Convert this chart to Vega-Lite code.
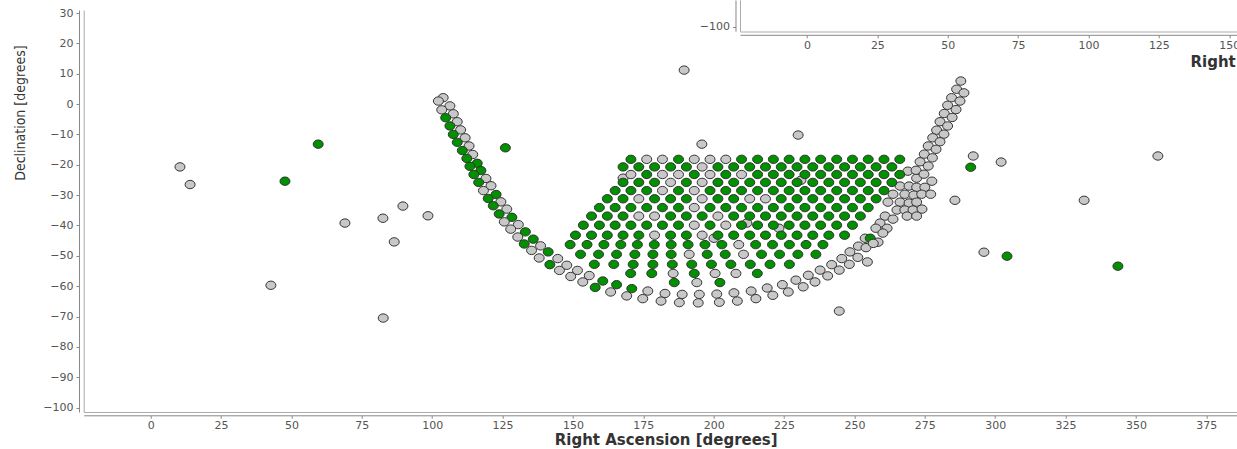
{
"$schema": "https://vega.github.io/schema/vega-lite/v6.json",
"background": "white",
"padding": {"left": 13.7, "top": 7, "right": 0, "bottom": 0},
"width": 1164,
"height": 402,
"datasets": {"pts": [
{"ra":167.8,"dec":-24.4,"k":"n"},{"ra":223.2,"dec":-40.9,"k":"n"},{"ra":200.1,"dec":-44.2,"k":"n"},{"ra":211.8,"dec":-39.2,"k":"n"},{"ra":231.0,"dec":-25.1,"k":"n"},
{"ra":269.0,"dec":-22.1,"k":"n"},{"ra":272.1,"dec":-24.4,"k":"n"},{"ra":277.5,"dec":-25.4,"k":"n"},{"ra":266.2,"dec":-27.0,"k":"n"},{"ra":269.4,"dec":-27.0,"k":"n"},{"ra":272.1,"dec":-27.4,"k":"n"},{"ra":275.0,"dec":-27.4,"k":"n"},{"ra":263.7,"dec":-29.7,"k":"n"},{"ra":267.9,"dec":-29.7,"k":"n"},{"ra":271.1,"dec":-30.0,"k":"n"},{"ra":273.9,"dec":-29.7,"k":"n"},{"ra":277.1,"dec":-29.7,"k":"n"},{"ra":261.9,"dec":-32.3,"k":"n"},{"ra":266.2,"dec":-32.3,"k":"n"},{"ra":269.4,"dec":-32.6,"k":"n"},{"ra":272.1,"dec":-32.3,"k":"n"},{"ra":265.1,"dec":-34.9,"k":"n"},{"ra":267.9,"dec":-34.9,"k":"n"},{"ra":270.8,"dec":-34.9,"k":"n"},{"ra":274.0,"dec":-34.6,"k":"n"},{"ra":260.9,"dec":-36.9,"k":"n"},{"ra":263.7,"dec":-37.9,"k":"n"},{"ra":268.7,"dec":-36.9,"k":"n"},{"ra":272.1,"dec":-36.9,"k":"n"},{"ra":259.1,"dec":-39.2,"k":"n"},{"ra":261.6,"dec":-40.9,"k":"n"},{"ra":257.6,"dec":-40.9,"k":"n"},{"ra":260.1,"dec":-42.5,"k":"n"},{"ra":258.4,"dec":-45.5,"k":"n"},{"ra":253.8,"dec":-44.2,"k":"n"},{"ra":255.6,"dec":-44.2,"k":"g"},
{"ra":170.6,"dec":-18.2,"k":"g"},{"ra":176.2,"dec":-18.2,"k":"n"},{"ra":181.8,"dec":-18.2,"k":"n"},{"ra":187.5,"dec":-18.2,"k":"g"},{"ra":193.1,"dec":-18.2,"k":"n"},{"ra":198.7,"dec":-18.2,"k":"n"},{"ra":204.3,"dec":-18.2,"k":"n"},{"ra":209.9,"dec":-18.2,"k":"g"},{"ra":215.6,"dec":-18.2,"k":"g"},{"ra":221.2,"dec":-18.2,"k":"g"},{"ra":226.8,"dec":-18.2,"k":"g"},{"ra":232.4,"dec":-18.2,"k":"g"},{"ra":238.0,"dec":-18.2,"k":"g"},{"ra":243.7,"dec":-18.2,"k":"g"},{"ra":249.3,"dec":-18.2,"k":"g"},{"ra":254.9,"dec":-18.2,"k":"g"},{"ra":260.5,"dec":-18.2,"k":"g"},{"ra":266.1,"dec":-18.2,"k":"g"},
{"ra":167.8,"dec":-20.7,"k":"g"},{"ra":173.4,"dec":-20.7,"k":"g"},{"ra":179.0,"dec":-20.7,"k":"g"},{"ra":184.7,"dec":-20.7,"k":"g"},{"ra":190.3,"dec":-20.7,"k":"g"},{"ra":195.9,"dec":-20.7,"k":"n"},{"ra":201.5,"dec":-20.7,"k":"g"},{"ra":207.1,"dec":-20.7,"k":"g"},{"ra":212.8,"dec":-20.7,"k":"g"},{"ra":218.4,"dec":-20.7,"k":"g"},{"ra":224.0,"dec":-20.7,"k":"g"},{"ra":229.6,"dec":-20.7,"k":"g"},{"ra":235.2,"dec":-20.7,"k":"g"},{"ra":240.9,"dec":-20.7,"k":"g"},{"ra":246.5,"dec":-20.7,"k":"g"},{"ra":252.1,"dec":-20.7,"k":"g"},{"ra":257.7,"dec":-20.7,"k":"g"},{"ra":263.3,"dec":-20.7,"k":"g"},
{"ra":170.6,"dec":-23.2,"k":"n"},{"ra":176.2,"dec":-23.2,"k":"g"},{"ra":181.8,"dec":-23.2,"k":"n"},{"ra":187.5,"dec":-23.2,"k":"n"},{"ra":193.1,"dec":-23.2,"k":"g"},{"ra":198.7,"dec":-23.2,"k":"n"},{"ra":204.3,"dec":-23.2,"k":"g"},{"ra":209.9,"dec":-23.2,"k":"n"},{"ra":215.6,"dec":-23.2,"k":"g"},{"ra":221.2,"dec":-23.2,"k":"g"},{"ra":226.8,"dec":-23.2,"k":"g"},{"ra":232.4,"dec":-23.2,"k":"g"},{"ra":238.0,"dec":-23.2,"k":"g"},{"ra":243.7,"dec":-23.2,"k":"g"},{"ra":249.3,"dec":-23.2,"k":"g"},{"ra":254.9,"dec":-23.2,"k":"g"},{"ra":260.5,"dec":-23.2,"k":"g"},{"ra":266.1,"dec":-23.2,"k":"g"},
{"ra":167.8,"dec":-25.8,"k":"g"},{"ra":173.4,"dec":-25.8,"k":"g"},{"ra":179.0,"dec":-25.8,"k":"g"},{"ra":184.7,"dec":-25.8,"k":"n"},{"ra":190.3,"dec":-25.8,"k":"g"},{"ra":195.9,"dec":-25.8,"k":"n"},{"ra":201.5,"dec":-25.8,"k":"g"},{"ra":207.1,"dec":-25.8,"k":"g"},{"ra":212.8,"dec":-25.8,"k":"g"},{"ra":218.4,"dec":-25.8,"k":"g"},{"ra":224.0,"dec":-25.8,"k":"g"},{"ra":229.6,"dec":-25.8,"k":"g"},{"ra":235.2,"dec":-25.8,"k":"g"},{"ra":240.9,"dec":-25.8,"k":"g"},{"ra":246.5,"dec":-25.8,"k":"g"},{"ra":252.1,"dec":-25.8,"k":"g"},{"ra":257.7,"dec":-25.8,"k":"g"},{"ra":263.3,"dec":-25.8,"k":"g"},
{"ra":165.0,"dec":-28.5,"k":"g"},{"ra":170.6,"dec":-28.5,"k":"g"},{"ra":176.2,"dec":-28.5,"k":"g"},{"ra":181.8,"dec":-28.5,"k":"n"},{"ra":187.5,"dec":-28.5,"k":"g"},{"ra":193.1,"dec":-28.5,"k":"n"},{"ra":198.7,"dec":-28.5,"k":"g"},{"ra":204.3,"dec":-28.5,"k":"g"},{"ra":209.9,"dec":-28.5,"k":"g"},{"ra":215.6,"dec":-28.5,"k":"g"},{"ra":221.2,"dec":-28.5,"k":"g"},{"ra":226.8,"dec":-28.5,"k":"g"},{"ra":232.4,"dec":-28.5,"k":"g"},{"ra":238.0,"dec":-28.5,"k":"g"},{"ra":243.7,"dec":-28.5,"k":"g"},{"ra":249.3,"dec":-28.5,"k":"g"},{"ra":254.9,"dec":-28.5,"k":"g"},{"ra":260.5,"dec":-28.5,"k":"g"},
{"ra":162.2,"dec":-31.2,"k":"g"},{"ra":167.8,"dec":-31.2,"k":"g"},{"ra":173.4,"dec":-31.2,"k":"n"},{"ra":179.0,"dec":-31.2,"k":"g"},{"ra":184.7,"dec":-31.2,"k":"g"},{"ra":190.3,"dec":-31.2,"k":"g"},{"ra":195.9,"dec":-31.2,"k":"n"},{"ra":201.5,"dec":-31.2,"k":"g"},{"ra":207.1,"dec":-31.2,"k":"g"},{"ra":212.8,"dec":-31.2,"k":"n"},{"ra":218.4,"dec":-31.2,"k":"n"},{"ra":224.0,"dec":-31.2,"k":"g"},{"ra":229.6,"dec":-31.2,"k":"g"},{"ra":235.2,"dec":-31.2,"k":"g"},{"ra":240.9,"dec":-31.2,"k":"g"},{"ra":246.5,"dec":-31.2,"k":"g"},{"ra":252.1,"dec":-31.2,"k":"g"},{"ra":257.7,"dec":-31.2,"k":"g"},
{"ra":159.4,"dec":-34.1,"k":"g"},{"ra":165.0,"dec":-34.1,"k":"g"},{"ra":170.6,"dec":-34.1,"k":"g"},{"ra":176.2,"dec":-34.1,"k":"g"},{"ra":181.8,"dec":-34.1,"k":"g"},{"ra":187.5,"dec":-34.1,"k":"g"},{"ra":193.1,"dec":-34.1,"k":"n"},{"ra":198.7,"dec":-34.1,"k":"g"},{"ra":204.3,"dec":-34.1,"k":"g"},{"ra":209.9,"dec":-34.1,"k":"g"},{"ra":215.6,"dec":-34.1,"k":"g"},{"ra":221.2,"dec":-34.1,"k":"g"},{"ra":226.8,"dec":-34.1,"k":"g"},{"ra":232.4,"dec":-34.1,"k":"g"},{"ra":238.0,"dec":-34.1,"k":"g"},{"ra":243.7,"dec":-34.1,"k":"g"},{"ra":249.3,"dec":-34.1,"k":"g"},{"ra":254.9,"dec":-34.1,"k":"g"},
{"ra":156.6,"dec":-36.9,"k":"g"},{"ra":162.2,"dec":-36.9,"k":"g"},{"ra":167.8,"dec":-36.9,"k":"g"},{"ra":173.4,"dec":-36.9,"k":"n"},{"ra":179.0,"dec":-36.9,"k":"n"},{"ra":184.7,"dec":-36.9,"k":"g"},{"ra":190.3,"dec":-36.9,"k":"g"},{"ra":195.9,"dec":-36.9,"k":"g"},{"ra":201.5,"dec":-36.9,"k":"n"},{"ra":207.1,"dec":-36.9,"k":"g"},{"ra":212.8,"dec":-36.9,"k":"g"},{"ra":218.4,"dec":-36.9,"k":"g"},{"ra":224.0,"dec":-36.9,"k":"g"},{"ra":229.6,"dec":-36.9,"k":"g"},{"ra":235.2,"dec":-36.9,"k":"g"},{"ra":240.9,"dec":-36.9,"k":"g"},{"ra":246.5,"dec":-36.9,"k":"g"},{"ra":252.1,"dec":-36.9,"k":"g"},
{"ra":153.7,"dec":-39.9,"k":"g"},{"ra":159.4,"dec":-39.9,"k":"g"},{"ra":165.0,"dec":-39.9,"k":"g"},{"ra":170.6,"dec":-39.9,"k":"g"},{"ra":176.2,"dec":-39.9,"k":"g"},{"ra":181.8,"dec":-39.9,"k":"g"},{"ra":187.5,"dec":-39.9,"k":"g"},{"ra":193.1,"dec":-39.9,"k":"n"},{"ra":198.7,"dec":-39.9,"k":"g"},{"ra":204.3,"dec":-39.9,"k":"n"},{"ra":209.9,"dec":-39.9,"k":"g"},{"ra":215.6,"dec":-39.9,"k":"g"},{"ra":221.2,"dec":-39.9,"k":"g"},{"ra":226.8,"dec":-39.9,"k":"g"},{"ra":232.4,"dec":-39.9,"k":"g"},{"ra":238.0,"dec":-39.9,"k":"g"},{"ra":243.7,"dec":-39.9,"k":"g"},{"ra":249.3,"dec":-39.9,"k":"g"},
{"ra":150.9,"dec":-43.2,"k":"g"},{"ra":156.6,"dec":-43.2,"k":"g"},{"ra":162.2,"dec":-43.2,"k":"g"},{"ra":167.8,"dec":-43.2,"k":"g"},{"ra":173.4,"dec":-43.2,"k":"g"},{"ra":179.0,"dec":-43.2,"k":"n"},{"ra":184.7,"dec":-43.2,"k":"g"},{"ra":190.3,"dec":-43.2,"k":"g"},{"ra":195.9,"dec":-43.2,"k":"n"},{"ra":201.5,"dec":-43.2,"k":"g"},{"ra":207.1,"dec":-43.2,"k":"g"},{"ra":212.8,"dec":-43.2,"k":"g"},{"ra":218.4,"dec":-43.2,"k":"g"},{"ra":224.0,"dec":-43.2,"k":"g"},{"ra":229.6,"dec":-43.2,"k":"g"},{"ra":235.2,"dec":-43.2,"k":"g"},{"ra":240.9,"dec":-43.2,"k":"g"},{"ra":246.5,"dec":-43.2,"k":"g"},
{"ra":149.0,"dec":-46.3,"k":"g"},{"ra":155.0,"dec":-46.3,"k":"g"},{"ra":161.0,"dec":-46.3,"k":"g"},{"ra":167.0,"dec":-46.3,"k":"g"},{"ra":172.9,"dec":-46.3,"k":"g"},{"ra":178.9,"dec":-46.3,"k":"g"},{"ra":184.9,"dec":-46.3,"k":"g"},{"ra":190.9,"dec":-46.3,"k":"g"},{"ra":196.9,"dec":-46.3,"k":"g"},{"ra":202.9,"dec":-46.3,"k":"g"},{"ra":208.9,"dec":-46.3,"k":"n"},{"ra":214.9,"dec":-46.3,"k":"g"},{"ra":220.9,"dec":-46.3,"k":"g"},{"ra":226.9,"dec":-46.3,"k":"g"},{"ra":232.8,"dec":-46.3,"k":"g"},{"ra":238.8,"dec":-46.3,"k":"g"},
{"ra":152.7,"dec":-49.5,"k":"g"},{"ra":159.1,"dec":-49.5,"k":"g"},{"ra":165.5,"dec":-49.5,"k":"g"},{"ra":172.0,"dec":-49.5,"k":"g"},{"ra":178.4,"dec":-49.5,"k":"g"},{"ra":184.9,"dec":-49.5,"k":"g"},{"ra":191.3,"dec":-49.5,"k":"n"},{"ra":197.7,"dec":-49.5,"k":"g"},{"ra":204.1,"dec":-49.5,"k":"g"},{"ra":210.6,"dec":-49.5,"k":"n"},{"ra":217.0,"dec":-49.5,"k":"g"},{"ra":223.4,"dec":-49.5,"k":"g"},{"ra":229.9,"dec":-49.5,"k":"g"},{"ra":236.3,"dec":-49.5,"k":"g"},
{"ra":157.6,"dec":-52.8,"k":"g"},{"ra":164.5,"dec":-52.8,"k":"g"},{"ra":171.4,"dec":-52.8,"k":"g"},{"ra":178.4,"dec":-52.8,"k":"g"},{"ra":185.3,"dec":-52.8,"k":"g"},{"ra":192.2,"dec":-52.8,"k":"g"},{"ra":199.2,"dec":-52.8,"k":"g"},{"ra":206.1,"dec":-52.8,"k":"g"},{"ra":213.0,"dec":-52.8,"k":"g"},{"ra":220.0,"dec":-52.8,"k":"g"},{"ra":226.9,"dec":-52.8,"k":"g"},
{"ra":170.5,"dec":-55.8,"k":"g"},{"ra":178.0,"dec":-55.8,"k":"g"},{"ra":185.6,"dec":-55.8,"k":"n"},{"ra":193.1,"dec":-55.8,"k":"g"},{"ra":200.5,"dec":-55.8,"k":"n"},{"ra":207.9,"dec":-55.8,"k":"n"},{"ra":215.5,"dec":-55.8,"k":"g"},
{"ra":186.0,"dec":-58.8,"k":"g"},{"ra":194.0,"dec":-58.8,"k":"n"},{"ra":202.2,"dec":-58.8,"k":"g"},
{"ra":103.9,"dec":2.1,"k":"n"},{"ra":102.2,"dec":1.0,"k":"n"},{"ra":106.3,"dec":-0.6,"k":"n"},{"ra":103.4,"dec":-1.9,"k":"n"},{"ra":107.5,"dec":-3.2,"k":"n"},{"ra":104.8,"dec":-4.5,"k":"g"},{"ra":108.9,"dec":-5.8,"k":"n"},{"ra":106.3,"dec":-7.2,"k":"g"},{"ra":110.1,"dec":-8.5,"k":"n"},{"ra":107.5,"dec":-10.0,"k":"g"},{"ra":111.7,"dec":-11.1,"k":"n"},{"ra":108.9,"dec":-12.6,"k":"g"},{"ra":113.1,"dec":-13.8,"k":"n"},{"ra":110.7,"dec":-15.3,"k":"g"},{"ra":114.4,"dec":-16.6,"k":"n"},{"ra":112.3,"dec":-17.9,"k":"g"},{"ra":116.0,"dec":-19.5,"k":"g"},{"ra":113.4,"dec":-20.5,"k":"g"},{"ra":117.3,"dec":-21.9,"k":"g"},{"ra":114.8,"dec":-23.2,"k":"g"},{"ra":119.1,"dec":-24.5,"k":"n"},{"ra":116.5,"dec":-25.8,"k":"g"},{"ra":120.9,"dec":-26.9,"k":"n"},{"ra":118.2,"dec":-28.5,"k":"n"},{"ra":122.7,"dec":-29.8,"k":"g"},{"ra":119.9,"dec":-31.1,"k":"g"},{"ra":124.4,"dec":-32.2,"k":"n"},{"ra":121.7,"dec":-33.5,"k":"g"},{"ra":126.5,"dec":-34.6,"k":"n"},{"ra":123.8,"dec":-36.2,"k":"g"},{"ra":128.3,"dec":-37.3,"k":"g"},{"ra":125.6,"dec":-38.8,"k":"n"},{"ra":130.6,"dec":-39.7,"k":"n"},{"ra":127.9,"dec":-41.2,"k":"n"},{"ra":133.1,"dec":-42.1,"k":"g"},{"ra":130.4,"dec":-43.8,"k":"n"},{"ra":135.9,"dec":-44.5,"k":"g"},{"ra":132.7,"dec":-46.1,"k":"g"},{"ra":138.5,"dec":-46.7,"k":"n"},{"ra":135.3,"dec":-48.2,"k":"n"},{"ra":141.2,"dec":-48.7,"k":"g"},{"ra":138.0,"dec":-50.7,"k":"n"},{"ra":144.6,"dec":-50.9,"k":"n"},{"ra":141.8,"dec":-52.9,"k":"g"},{"ra":147.8,"dec":-53.1,"k":"n"},{"ra":145.2,"dec":-54.8,"k":"n"},{"ra":151.6,"dec":-54.8,"k":"n"},{"ra":149.2,"dec":-56.8,"k":"n"},{"ra":155.8,"dec":-56.5,"k":"n"},{"ra":153.5,"dec":-58.6,"k":"n"},{"ra":160.6,"dec":-58.3,"k":"g"},{"ra":157.9,"dec":-60.4,"k":"g"},{"ra":165.5,"dec":-59.5,"k":"g"},{"ra":163.4,"dec":-61.9,"k":"n"},{"ra":170.9,"dec":-60.8,"k":"g"},{"ra":169.1,"dec":-63.2,"k":"n"},{"ra":176.6,"dec":-61.6,"k":"n"},{"ra":174.8,"dec":-64.1,"k":"n"},{"ra":182.7,"dec":-62.4,"k":"n"},{"ra":181.3,"dec":-64.9,"k":"n"},{"ra":188.8,"dec":-62.7,"k":"n"},{"ra":187.8,"dec":-65.4,"k":"n"},{"ra":194.9,"dec":-62.7,"k":"n"},{"ra":194.5,"dec":-65.5,"k":"n"},{"ra":201.1,"dec":-62.6,"k":"n"},{"ra":202.0,"dec":-65.3,"k":"n"},{"ra":207.2,"dec":-62.2,"k":"n"},{"ra":208.4,"dec":-64.9,"k":"n"},{"ra":213.3,"dec":-61.6,"k":"n"},{"ra":215.0,"dec":-64.1,"k":"n"},{"ra":219.0,"dec":-60.6,"k":"n"},{"ra":221.0,"dec":-63.0,"k":"n"},{"ra":224.4,"dec":-59.5,"k":"n"},{"ra":226.5,"dec":-61.9,"k":"n"},{"ra":229.2,"dec":-58.0,"k":"n"},{"ra":231.8,"dec":-60.2,"k":"n"},{"ra":233.6,"dec":-56.4,"k":"n"},{"ra":236.0,"dec":-58.6,"k":"n"},{"ra":237.8,"dec":-54.7,"k":"n"},{"ra":240.5,"dec":-56.6,"k":"n"},{"ra":241.9,"dec":-52.9,"k":"n"},{"ra":244.6,"dec":-54.7,"k":"n"},{"ra":245.5,"dec":-50.9,"k":"n"},{"ra":248.2,"dec":-52.8,"k":"n"},{"ra":248.4,"dec":-48.7,"k":"n"},{"ra":251.2,"dec":-50.5,"k":"n"},{"ra":251.4,"dec":-46.8,"k":"n"},{"ra":254.1,"dec":-47.3,"k":"n"},{"ra":254.6,"dec":-52.0,"k":"n"},{"ra":256.7,"dec":-45.9,"k":"n"},
{"ra":287.8,"dec":7.6,"k":"n"},{"ra":286.3,"dec":4.9,"k":"n"},{"ra":288.9,"dec":3.7,"k":"n"},{"ra":284.5,"dec":2.1,"k":"n"},{"ra":287.5,"dec":1.0,"k":"n"},{"ra":283.1,"dec":-0.4,"k":"n"},{"ra":286.1,"dec":-1.8,"k":"n"},{"ra":281.9,"dec":-3.1,"k":"n"},{"ra":284.7,"dec":-4.4,"k":"n"},{"ra":280.4,"dec":-5.8,"k":"n"},{"ra":283.1,"dec":-7.2,"k":"n"},{"ra":279.2,"dec":-8.6,"k":"n"},{"ra":281.8,"dec":-9.9,"k":"n"},{"ra":277.8,"dec":-11.1,"k":"n"},{"ra":280.4,"dec":-12.4,"k":"n"},{"ra":276.2,"dec":-13.8,"k":"n"},{"ra":279.0,"dec":-14.9,"k":"n"},{"ra":274.8,"dec":-16.5,"k":"n"},{"ra":277.7,"dec":-17.7,"k":"n"},{"ra":273.3,"dec":-19.0,"k":"n"},{"ra":276.2,"dec":-20.4,"k":"n"},{"ra":271.9,"dec":-21.8,"k":"n"},{"ra":274.7,"dec":-23.1,"k":"n"},
{"ra":10.4,"dec":-20.7,"k":"n"},{"ra":14.0,"dec":-26.5,"k":"n"},{"ra":42.7,"dec":-59.7,"k":"n"},{"ra":47.7,"dec":-25.4,"k":"g"},{"ra":59.5,"dec":-13.2,"k":"g"},{"ra":69.0,"dec":-39.2,"k":"n"},{"ra":82.5,"dec":-37.6,"k":"n"},{"ra":86.5,"dec":-45.4,"k":"n"},{"ra":82.6,"dec":-70.5,"k":"n"},{"ra":89.6,"dec":-33.6,"k":"n"},{"ra":98.5,"dec":-36.8,"k":"n"},{"ra":126.0,"dec":-14.4,"k":"g"},{"ra":189.5,"dec":11.2,"k":"n"},{"ra":195.8,"dec":-13.2,"k":"n"},{"ra":230.0,"dec":-10.2,"k":"n"},{"ra":244.6,"dec":-68.2,"k":"n"},{"ra":285.7,"dec":-31.7,"k":"n"},{"ra":292.2,"dec":-17.1,"k":"n"},{"ra":291.3,"dec":-20.8,"k":"g"},{"ra":302.1,"dec":-19.1,"k":"n"},{"ra":296.0,"dec":-48.8,"k":"n"},{"ra":304.2,"dec":-50.1,"k":"g"},{"ra":331.6,"dec":-31.7,"k":"n"},{"ra":343.6,"dec":-53.4,"k":"g"},{"ra":357.8,"dec":-17.1,"k":"n"}
]},
"config": {
  "view": {"stroke": null},
  "axis": {"grid": false, "labelFont": "DejaVu Sans", "labelFontSize": 11, "labelColor": "#555", "tickColor": "#888", "domainColor": "#888", "tickSize": 3, "titleColor": "#333", "labelFlush": false, "labelOverlap": false}
},
"resolve": {"scale": {"x": "independent", "y": "independent"}, "axis": {"x": "independent", "y": "independent"}},
"layer": [
 {
  "data": {"name": "pts"},
  "mark": {"type": "point", "shape": "M-1,0A1,0.84,0,1,1,1,0A1,0.84,0,1,1,-1,0Z", "filled": true, "size": 100, "stroke": "#333", "strokeWidth": 1, "opacity": 1},
  "encoding": {
   "x": {"field": "ra", "type": "quantitative", "scale": {"domain": [-23.8, 389.7], "nice": false, "zero": false},
     "axis": {"orient": "bottom", "values": [0,25,50,75,100,125,150,175,200,225,250,275,300,325,350,375], "offset": 3.3, "labelPadding": 1.5, "title": "Right Ascension [degrees]", "titleFont": "DejaVu Sans", "titleFontSize": 15, "titleFontWeight": "bold", "titlePadding": 2}},
   "y": {"field": "dec", "type": "quantitative", "scale": {"domain": [-101.45, 31.0], "nice": false, "zero": false},
     "axis": {"orient": "left", "values": [-100,-90,-80,-70,-60,-50,-40,-30,-20,-10,0,10,20,30], "offset": 4.7, "labelPadding": 3, "title": "Declination [degrees]", "titleFont": "DejaVu Sans Condensed, Liberation Sans Narrow, sans-serif", "titleFontSize": 14, "titleFontWeight": "normal", "titlePadding": 15, "titleY": 102.5}},
   "color": {"field": "k", "type": "nominal", "scale": {"domain": ["n", "g"], "range": ["#c8c8c8", "#009000"]}, "legend": null}
  }
 },
 {
  "data": {"values": []},
  "mark": {"type": "point"},
  "encoding": {
   "x": {"field": "ra", "type": "quantitative", "scale": {"domain": [-23.8, 389.7], "nice": false, "zero": false},
     "axis": {"orient": "bottom", "offset": 0, "ticks": false, "labels": false, "title": null, "domainColor": "#aaa"}},
   "y": {"field": "dec", "type": "quantitative", "scale": {"domain": [-101.45, 31.0], "nice": false, "zero": false},
     "axis": {"orient": "left", "offset": 0, "ticks": false, "labels": false, "title": null, "domainColor": "#aaa"}}
  }
 },
 {
  "data": {"values": []},
  "mark": {"type": "point"},
  "encoding": {
   "x": {"field": "ra", "type": "quantitative", "scale": {"domain": [-23.8, 389.7], "range": [656.3, 1820.3], "nice": false, "zero": false},
     "axis": {"orient": "bottom", "values": [0,25,50,75,100,125,150,175,200,225,250,275,300,325,350,375], "offset": -377.2, "labelPadding": 1.5, "title": "Right Ascension [degrees]", "titleFont": "DejaVu Sans", "titleFontSize": 15, "titleFontWeight": "bold", "titlePadding": 4, "titleAlign": "left", "titleX": 1106.3}},
   "y": {"field": "dec", "type": "quantitative", "scale": {"domain": [-101.45, -91.16], "range": [21.2, -10], "nice": false, "zero": false},
     "axis": {"orient": "left", "values": [-100], "offset": -651.8, "labelPadding": 3, "title": null}}
  }
 },
 {
  "data": {"values": []},
  "mark": {"type": "point"},
  "encoding": {
   "x": {"field": "ra", "type": "quantitative", "scale": {"domain": [-23.8, 389.7], "range": [656.3, 1820.3], "nice": false, "zero": false},
     "axis": {"orient": "bottom", "offset": -380.5, "ticks": false, "labels": false, "title": null, "domainColor": "#aaa"}},
   "y": {"field": "dec", "type": "quantitative", "scale": {"domain": [-101.45, -91.16], "range": [21.2, -10], "nice": false, "zero": false},
     "axis": {"orient": "left", "offset": -656.3, "ticks": false, "labels": false, "title": null, "domainColor": "#aaa"}}
  }
 }
]
}
